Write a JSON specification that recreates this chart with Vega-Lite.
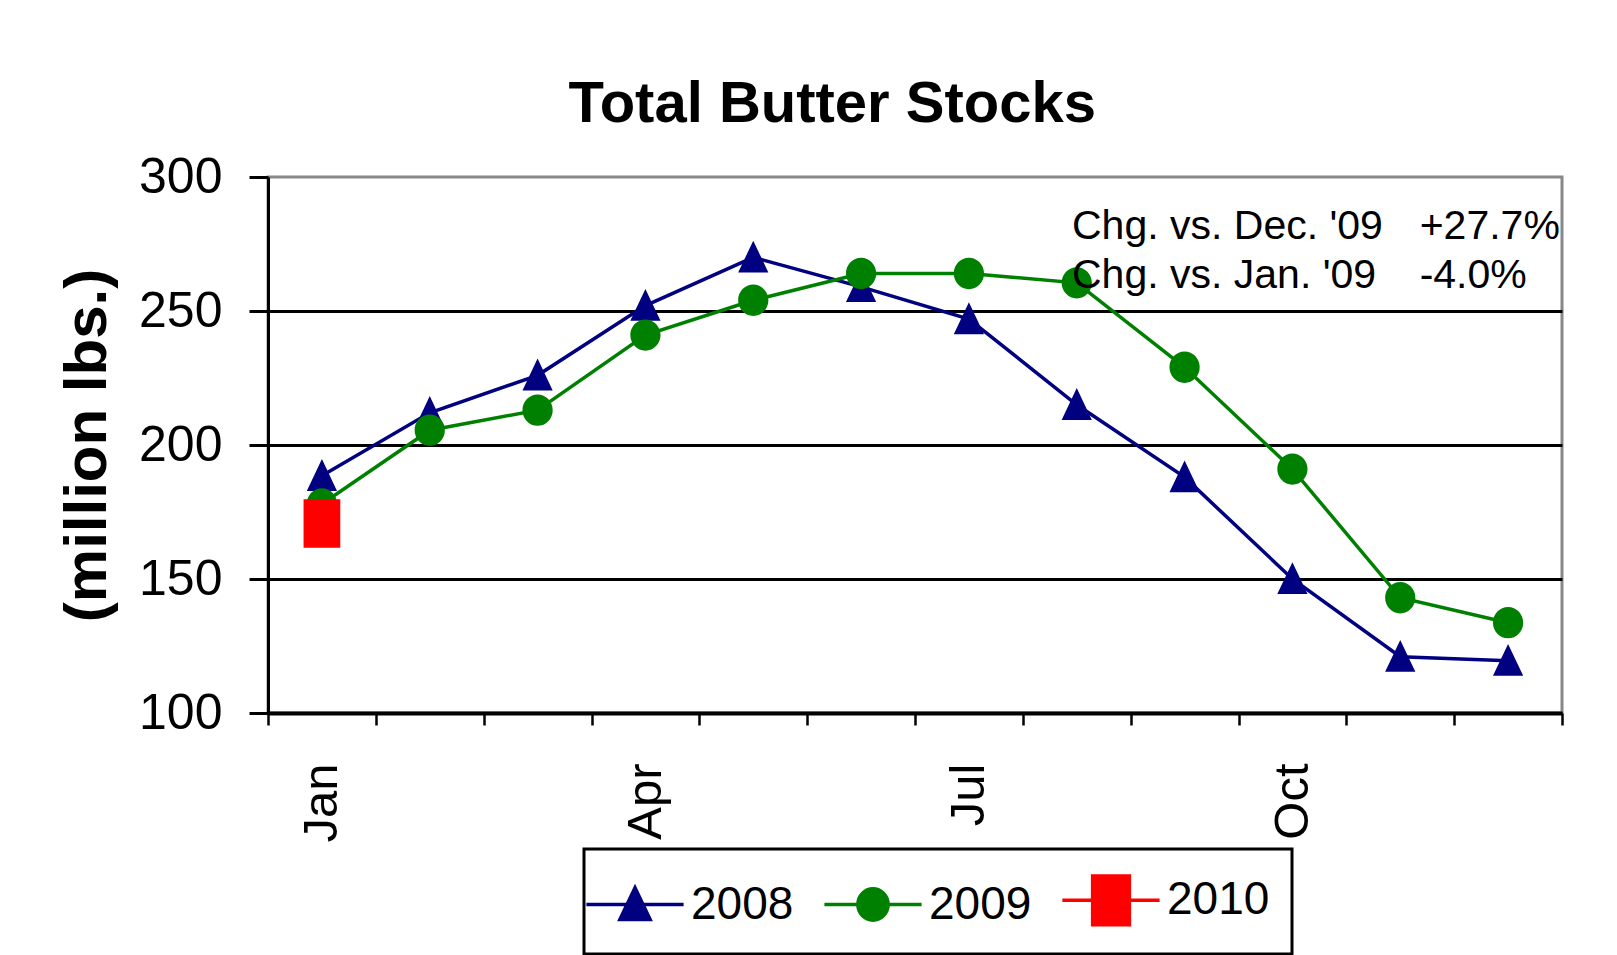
{
  "$schema": "https://vega.github.io/schema/vega-lite/v6.json",
  "width": 1294,
  "height": 536,
  "autosize": {"type": "none"},
  "padding": {"left": 268, "top": 177, "right": 55, "bottom": 242},
  "background": "white",
  "title": {
    "text": "Total Butter Stocks",
    "font": "'Liberation Sans', sans-serif",
    "fontSize": 58,
    "fontWeight": "bold",
    "color": "black",
    "anchor": "middle",
    "frame": "bounds",
    "offset": 18,
    "dx": 10
  },
  "data": {
    "values": [
      {"year": "2008", "month": 1, "stocks": 188.5},
      {"year": "2008", "month": 2, "stocks": 212},
      {"year": "2008", "month": 3, "stocks": 226},
      {"year": "2008", "month": 4, "stocks": 252},
      {"year": "2008", "month": 5, "stocks": 270},
      {"year": "2008", "month": 6, "stocks": 259},
      {"year": "2008", "month": 7, "stocks": 247},
      {"year": "2008", "month": 8, "stocks": 215},
      {"year": "2008", "month": 9, "stocks": 188},
      {"year": "2008", "month": 10, "stocks": 150},
      {"year": "2008", "month": 11, "stocks": 121},
      {"year": "2008", "month": 12, "stocks": 119.5},
      {"year": "2009", "month": 1, "stocks": 178},
      {"year": "2009", "month": 2, "stocks": 205.5},
      {"year": "2009", "month": 3, "stocks": 213},
      {"year": "2009", "month": 4, "stocks": 241},
      {"year": "2009", "month": 5, "stocks": 254},
      {"year": "2009", "month": 6, "stocks": 264},
      {"year": "2009", "month": 7, "stocks": 264},
      {"year": "2009", "month": 8, "stocks": 260.5},
      {"year": "2009", "month": 9, "stocks": 229},
      {"year": "2009", "month": 10, "stocks": 191},
      {"year": "2009", "month": 11, "stocks": 143},
      {"year": "2009", "month": 12, "stocks": 133.7},
      {"year": "2010", "month": 1, "stocks": 170.7}
    ]
  },
  "layer": [
    {
      "mark": {"type": "line", "strokeWidth": 3.5},
      "encoding": {
        "x": {
          "field": "month",
          "type": "quantitative",
          "scale": {"domain": [0.5, 12.5], "nice": false, "zero": false},
          "axis": {
            "title": null,
            "values": [0.5, 1, 1.5, 2, 2.5, 3, 3.5, 4, 4.5, 5, 5.5, 6, 6.5, 7, 7.5, 8, 8.5, 9, 9.5, 10, 10.5, 11, 11.5, 12, 12.5],
            "labelExpr": "datum.value == 1 ? 'Jan' : datum.value == 4 ? 'Apr' : datum.value == 7 ? 'Jul' : datum.value == 10 ? 'Oct' : ''",
            "labelAngle": -90,
            "labelAlign": "right",
            "labelBaseline": "middle",
            "labelFont": "'Liberation Sans', sans-serif",
            "labelFontSize": 49,
            "labelColor": "black",
            "labelPadding": 38,
            "labelOverlap": false,
            "labelFlush": false,
            "labelBound": false,
            "grid": false,
            "tickSize": 12,
            "tickWidth": 2.5,
            "tickColor": "black",
            "tickOpacity": {"condition": {"test": "datum.value % 1 == 0", "value": 0}, "value": 1},
            "domainColor": "black",
            "domainWidth": 4
          }
        },
        "y": {
          "field": "stocks",
          "type": "quantitative",
          "scale": {"domain": [100, 300], "nice": false, "zero": false},
          "axis": {
            "title": "(million lbs.)",
            "titleFont": "'Liberation Sans', sans-serif",
            "titleFontSize": 60,
            "titleFontWeight": "bold",
            "titleColor": "black",
            "titlePadding": 20,
            "values": [100, 150, 200, 250, 300],
            "labelFont": "'Liberation Sans', sans-serif",
            "labelFontSize": 50,
            "labelColor": "black",
            "labelPadding": 27,
            "tickSize": 19,
            "tickWidth": 3,
            "tickColor": "black",
            "domainColor": "black",
            "domainWidth": 3,
            "grid": true,
            "gridColor": "black",
            "gridWidth": 3,
            "gridOpacity": {"condition": {"test": "datum.value == 300", "value": 0}, "value": 1}
          }
        },
        "color": {
          "field": "year",
          "type": "nominal",
          "scale": {"domain": ["2008", "2009", "2010"], "range": ["#000080", "#008000", "#ff0000"]}
        }
      }
    },
    {
      "mark": {"type": "point", "filled": true, "opacity": 1},
      "encoding": {
        "x": {"field": "month", "type": "quantitative"},
        "y": {"field": "stocks", "type": "quantitative"},
        "color": {"field": "year", "type": "nominal"},
        "shape": {
          "field": "year",
          "type": "nominal",
          "scale": {
            "domain": ["2008", "2009", "2010"],
            "range": [
              "M-1.8,0H1.8M0,-0.62L0.56,0.56H-0.56Z",
              "M-1.8,0H1.8M0.56,0A0.56,0.58 0 1,1 -0.56,0A0.56,0.58 0 1,1 0.56,0Z",
              "M-1.8,0H1.8M-0.68,-0.9H0.68V0.9H-0.68Z"
            ]
          }
        },
        "stroke": {
          "field": "year",
          "type": "nominal",
          "scale": {"domain": ["2008", "2009", "2010"], "range": ["#000080", "#008000", "#ff0000"]}
        },
        "strokeWidth": {"value": 0},
        "size": {"value": 2916}
      }
    },
    {
      "data": {"values": [{"note": "Chg. vs. Dec. '09"}]},
      "mark": {"type": "text", "align": "left", "baseline": "alphabetic", "font": "'Liberation Sans', sans-serif", "fontSize": 41, "color": "black"},
      "encoding": {"x": {"datum": 7.956}, "y": {"datum": 276.9}, "text": {"field": "note"}}
    },
    {
      "data": {"values": [{"note": "Chg. vs. Jan. '09"}]},
      "mark": {"type": "text", "align": "left", "baseline": "alphabetic", "font": "'Liberation Sans', sans-serif", "fontSize": 41, "color": "black"},
      "encoding": {"x": {"datum": 7.956}, "y": {"datum": 258.5}, "text": {"field": "note"}}
    },
    {
      "data": {"values": [{"note": "+27.7%"}]},
      "mark": {"type": "text", "align": "left", "baseline": "alphabetic", "font": "'Liberation Sans', sans-serif", "fontSize": 41, "color": "black"},
      "encoding": {"x": {"datum": 11.18}, "y": {"datum": 276.9}, "text": {"field": "note"}}
    },
    {
      "data": {"values": [{"note": "-4.0%"}]},
      "mark": {"type": "text", "align": "left", "baseline": "alphabetic", "font": "'Liberation Sans', sans-serif", "fontSize": 41, "color": "black"},
      "encoding": {"x": {"datum": 11.18}, "y": {"datum": 258.5}, "text": {"field": "note"}}
    }
  ],
  "config": {
    "view": {"stroke": "#888888", "strokeWidth": 3},
    "font": "'Liberation Sans', sans-serif",
    "legend": {
      "title": null,
      "orient": "none",
      "legendX": 316,
      "legendY": 672,
      "direction": "horizontal",
      "padding": 22,
      "labelOffset": 27,
      "columnPadding": 23,
      "symbolSize": 2916,
      "symbolStrokeWidth": 3.5,
      "symbolOpacity": 1,
      "labelFont": "'Liberation Sans', sans-serif",
      "labelFontSize": 46,
      "labelColor": "black",
      "labelLimit": 300,
      "strokeColor": "black",
      "fillColor": "white",
      "strokeWidth": 3
    }
  }
}
